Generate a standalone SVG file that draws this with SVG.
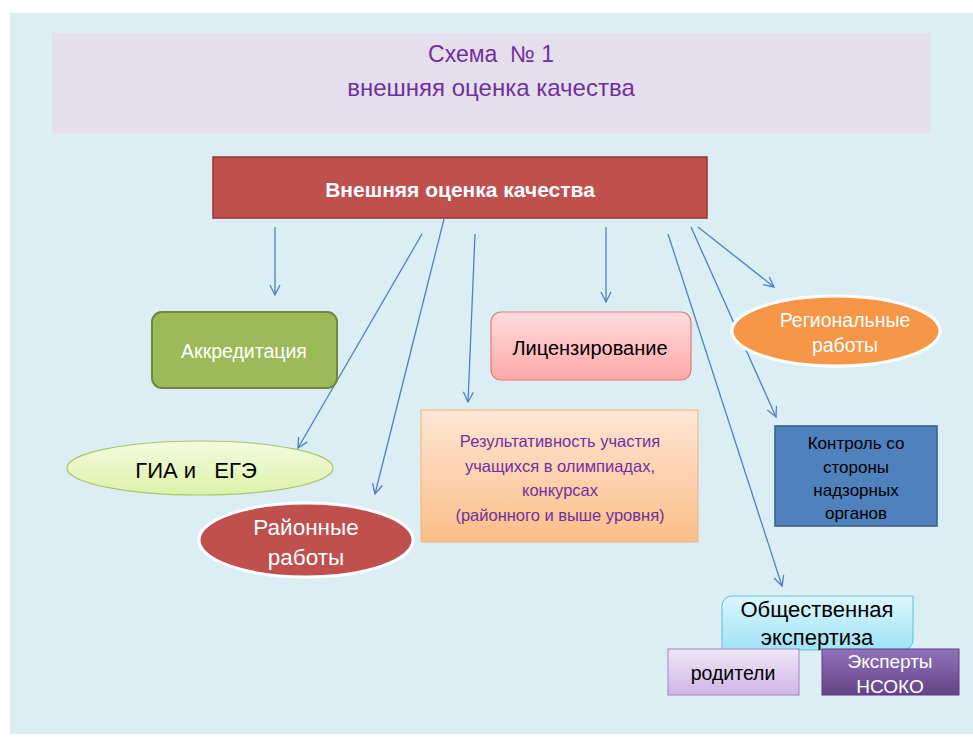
<svg xmlns="http://www.w3.org/2000/svg" width="973" height="737" viewBox="0 0 973 737">
<defs>
<style>
text{font-family:"Liberation Sans","Open Sans",sans-serif;text-anchor:middle;dominant-baseline:central}
.conn line{stroke:#4f81bd;stroke-width:1.3;fill:none;marker-end:url(#ah)}
.w{fill:#ffffff}
.k{fill:#000000}
.p{fill:#7030a0}
</style>
<marker id="ah" viewBox="0 0 12 12" refX="11" refY="6" markerWidth="12" markerHeight="12" markerUnits="userSpaceOnUse" orient="auto">
<path d="M1,1 L11,6 L1,11" fill="none" stroke="#4f81bd" stroke-width="1.3"/>
</marker>
<linearGradient id="gPink" x1="0" y1="0" x2="0" y2="1"><stop offset="0" stop-color="#ffdcdc"/><stop offset="1" stop-color="#ffa8a8"/></linearGradient>
<linearGradient id="gGreen" x1="0" y1="0" x2="0" y2="1"><stop offset="0" stop-color="#f4fbe0"/><stop offset="1" stop-color="#dcf2a8"/></linearGradient>
<linearGradient id="gOrange" x1="0" y1="0" x2="0" y2="1"><stop offset="0" stop-color="#fee6d4"/><stop offset="1" stop-color="#fbbe88"/></linearGradient>
<linearGradient id="gCyan" x1="0" y1="0" x2="0" y2="1"><stop offset="0" stop-color="#dcf6fd"/><stop offset="1" stop-color="#9fe3f6"/></linearGradient>
<linearGradient id="gLilac" x1="0" y1="0" x2="0" y2="1"><stop offset="0" stop-color="#f0e6f8"/><stop offset="1" stop-color="#ceb6e6"/></linearGradient>
<linearGradient id="gPurple" x1="0" y1="0" x2="0" y2="1"><stop offset="0" stop-color="#9272bc"/><stop offset="1" stop-color="#644285"/></linearGradient>
</defs>
<rect x="0" y="0" width="973" height="737" fill="#ffffff"/>
<rect x="10" y="13" width="963" height="721" fill="#dbeef4"/>
<g id="title">
<rect x="52" y="33" width="878" height="100" fill="#e5dfec"/>
<text x="491" y="54" class="p" font-size="23" xml:space="preserve">Схема  № 1</text>
<text x="491" y="87" class="p" font-size="24">внешняя оценка качества</text>
</g>
<g id="main">
<rect x="213" y="157" width="494" height="61" fill="#c0504d" stroke="#943634" stroke-width="1.5"/>
<text x="460" y="189" class="w" font-size="21" font-weight="bold">Внешняя оценка качества</text>
</g>
<g class="conn" id="connectors">
<line x1="275" y1="227" x2="275" y2="295"/>
<line x1="422" y1="234" x2="298" y2="448"/>
<line x1="444" y1="219" x2="375" y2="494"/>
<line x1="475" y1="234" x2="468" y2="402"/>
<line x1="606" y1="227" x2="606" y2="302"/>
<line x1="668" y1="234" x2="782" y2="586"/>
<line x1="691" y1="227" x2="776" y2="417"/>
<line x1="698" y1="227" x2="774" y2="287"/>
</g>
<g id="akkred">
<rect x="152" y="312" width="185" height="76" rx="10" fill="#9bbb59" stroke="#71893f" stroke-width="2"/>
<text x="244" y="351" class="w" font-size="19.5">Аккредитация</text>
</g>
<g id="licenz">
<rect x="491" y="312" width="200" height="68" rx="10" fill="url(#gPink)" stroke="#e07878" stroke-width="1.2"/>
<text x="590" y="348" class="k" font-size="20">Лицензирование</text>
</g>
<g id="region">
<ellipse cx="836" cy="331" rx="104" ry="35" fill="#f79646" stroke="#ffffff" stroke-width="3"/>
<text x="845" y="320" class="w" font-size="19.5">Региональные</text>
<text x="845" y="345" class="w" font-size="19.5">работы</text>
</g>
<g id="gia">
<ellipse cx="200" cy="468" rx="133" ry="27" fill="url(#gGreen)" stroke="#a8c868" stroke-width="1.2"/>
<text x="196" y="470" class="k" font-size="22" xml:space="preserve">ГИА и   ЕГЭ</text>
</g>
<g id="rayon">
<ellipse cx="306" cy="540" rx="107" ry="37" fill="#c0504d" stroke="#ffffff" stroke-width="3"/>
<text x="306" y="527" class="w" font-size="22.5">Районные</text>
<text x="306" y="557" class="w" font-size="22.5">работы</text>
</g>
<g id="result">
<rect x="421" y="410" width="277" height="132" fill="url(#gOrange)" stroke="#f5b084" stroke-width="1"/>
<text x="560" y="441" class="p" font-size="16.5">Результативность участия</text>
<text x="560" y="466" class="p" font-size="16.5">учащихся в олимпиадах,</text>
<text x="560" y="490" class="p" font-size="16.5">конкурсах</text>
<text x="560" y="515" class="p" font-size="16.5">(районного и выше уровня)</text>
</g>
<g id="control">
<rect x="775" y="426" width="162" height="100" fill="#4f81bd" stroke="#385d8a" stroke-width="1.5"/>
<text x="856" y="443" class="k" font-size="17">Контроль со</text>
<text x="856" y="467" class="k" font-size="17">стороны</text>
<text x="856" y="490" class="k" font-size="17">надзорных</text>
<text x="856" y="513" class="k" font-size="17">органов</text>
</g>
<g id="obsch">
<path d="M732,596 H913 V640 A10,10 0 0 1 903,650 H722 V606 A10,10 0 0 1 732,596 Z" fill="url(#gCyan)" stroke="#5fc0e0" stroke-width="1"/>
<text x="817" y="609" class="k" font-size="22">Общественная</text>
<text x="817" y="637" class="k" font-size="22">экспертиза</text>
</g>
<g id="roditeli">
<rect x="668" y="649" width="131" height="46" fill="url(#gLilac)" stroke="#a184c4" stroke-width="1"/>
<text x="733" y="673" class="k" font-size="19.5">родители</text>
</g>
<g id="experts">
<rect x="822" y="649" width="137" height="46" fill="url(#gPurple)" stroke="#5c3d7e" stroke-width="1"/>
<text x="890" y="661" class="w" font-size="19">Эксперты</text>
<text x="890" y="686" class="w" font-size="19">НСОКО</text>
</g>
</svg>
